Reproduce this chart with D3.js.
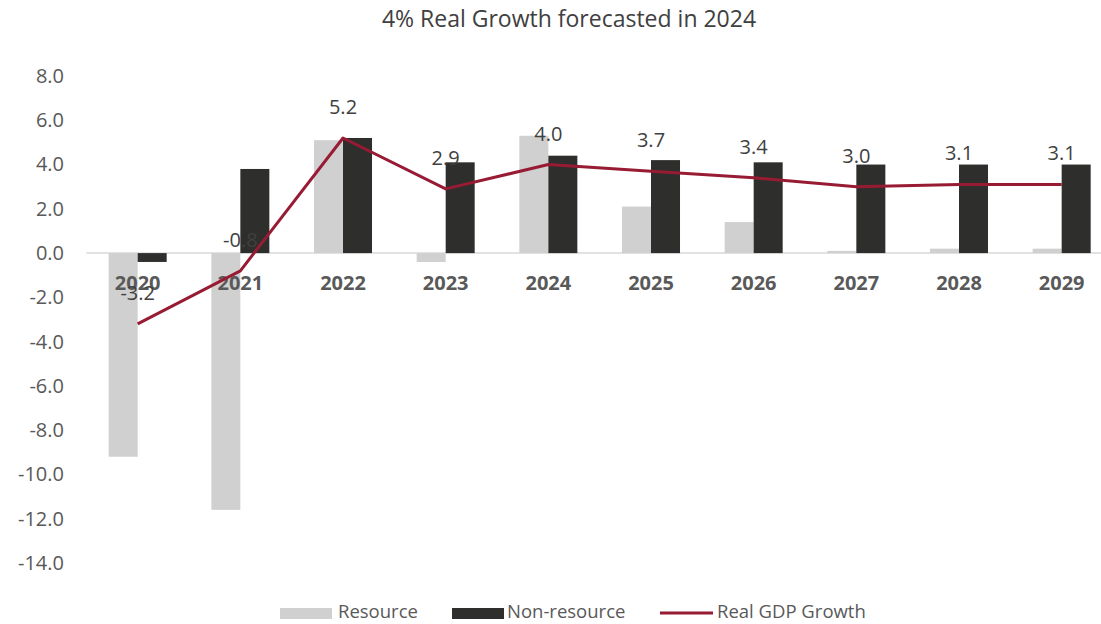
<!DOCTYPE html>
<html><head><meta charset="utf-8">
<script src="https://cdn.jsdelivr.net/npm/d3@7"></script>
<style>
html,body{margin:0;padding:0;background:#fff;}
svg{display:block;font-family:"Open Sans","Noto Sans",sans-serif;}
svg text{font-family:"Open Sans","Noto Sans",sans-serif;}
</style></head>
<body><svg id="chart" width="1101" height="624"></svg>
<script>
const categories = ["2020","2021","2022","2023","2024","2025","2026","2027","2028","2029"];
const resource = [-9.2,-11.6,5.1,-0.4,5.3,2.1,1.4,0.1,0.2,0.2];
const nonResource = [-0.4,3.8,5.2,4.1,4.4,4.2,4.1,4.0,4.0,4.0];
const realGDP = [-3.2,-0.8,5.2,2.9,4.0,3.7,3.4,3.0,3.1,3.1];
const yTicks = [8,6,4,2,0,-2,-4,-6,-8,-10,-12,-14];
const seriesNames = ["Resource","Non-resource","Real GDP Growth"];
const colors = {"Resource":"#d0d0d0","Non-resource":"#2e2e2c","Real GDP Growth":"#981b34"};

const fmt = v => d3.format(".1f")(v).replace("\u2212","-");

const svg = d3.select("#chart");
const x0 = d3.scaleBand().domain(categories).range([86.35,1113]).paddingInner(0.435).paddingOuter(0.2175);
const x1 = d3.scaleBand().domain(["Resource","Non-resource"]).range([0,x0.bandwidth()]);
const y = d3.scaleLinear().domain([-14,8]).range([563,76]);

// title
svg.append("text").attr("x",569).attr("y",27).attr("text-anchor","middle")
  .attr("font-size",23).attr("fill","#404040").text("4% Real Growth forecasted in 2024");

// y axis
const ya = svg.append("g").attr("transform","translate(64,0)")
  .call(d3.axisLeft(y).tickValues(yTicks).tickFormat(fmt).tickSize(0).tickPadding(0));
ya.select(".domain").remove();
ya.selectAll("text").attr("font-size",20).attr("fill","#595959");

// zero line
svg.append("line").attr("x1",86.35).attr("x2",1113).attr("y1",y(0)).attr("y2",y(0))
  .attr("stroke","#d9d9d9").attr("stroke-width",1.5);

// bars
const rows = categories.map((c,i)=>({cat:c, vals:[{k:"Resource",v:resource[i]},{k:"Non-resource",v:nonResource[i]}]}));
const groups = svg.append("g").selectAll("g").data(rows).join("g")
  .attr("transform",d=>`translate(${x0(d.cat)},0)`);
groups.selectAll("rect").data(d=>d.vals).join("rect")
  .attr("x",d=>x1(d.k)).attr("width",x1.bandwidth())
  .attr("y",d=>y(Math.max(0,d.v))).attr("height",d=>Math.abs(y(d.v)-y(0)))
  .attr("fill",d=>colors[d.k]);

// category axis labels
const xa = svg.append("g").attr("transform",`translate(0,${y(0)})`)
  .call(d3.axisBottom(x0).tickSize(0).tickPadding(23));
xa.select(".domain").remove();
xa.selectAll("text").attr("font-size",20).attr("font-weight","bold").attr("fill","#595959");

// line
const cx = c => x0(c)+x0.bandwidth()/2;
const line = d3.line().x((d,i)=>cx(categories[i])).y(d=>y(d));
svg.append("path").datum(realGDP).attr("d",line).attr("fill","none")
  .attr("stroke",colors["Real GDP Growth"]).attr("stroke-width",3).attr("stroke-linejoin","round");

// data labels
svg.append("g").selectAll("text").data(realGDP).join("text")
  .attr("x",(d,i)=>cx(categories[i])).attr("y",d=>y(d)-31).attr("dy","0.35em")
  .attr("text-anchor","middle").attr("font-size",20).attr("fill","#404040")
  .text(d=>fmt(d));

// legend
const lg = svg.append("g");
const legendItems = [
  {k:"Resource", sx:280, tx:338},
  {k:"Non-resource", sx:452, tx:507},
  {k:"Real GDP Growth", sx:660, tx:717}
];
legendItems.forEach(it=>{
  if(it.k==="Real GDP Growth"){
    lg.append("line").attr("x1",it.sx).attr("x2",it.sx+53).attr("y1",613).attr("y2",613)
      .attr("stroke",colors[it.k]).attr("stroke-width",3);
  } else {
    lg.append("rect").attr("x",it.sx).attr("y",608).attr("width",52).attr("height",11).attr("fill",colors[it.k]);
  }
  lg.append("text").attr("x",it.tx).attr("y",612).attr("dy","0.35em").attr("font-size",18.5)
    .attr("fill","#595959").text(it.k);
});
</script></body></html>
